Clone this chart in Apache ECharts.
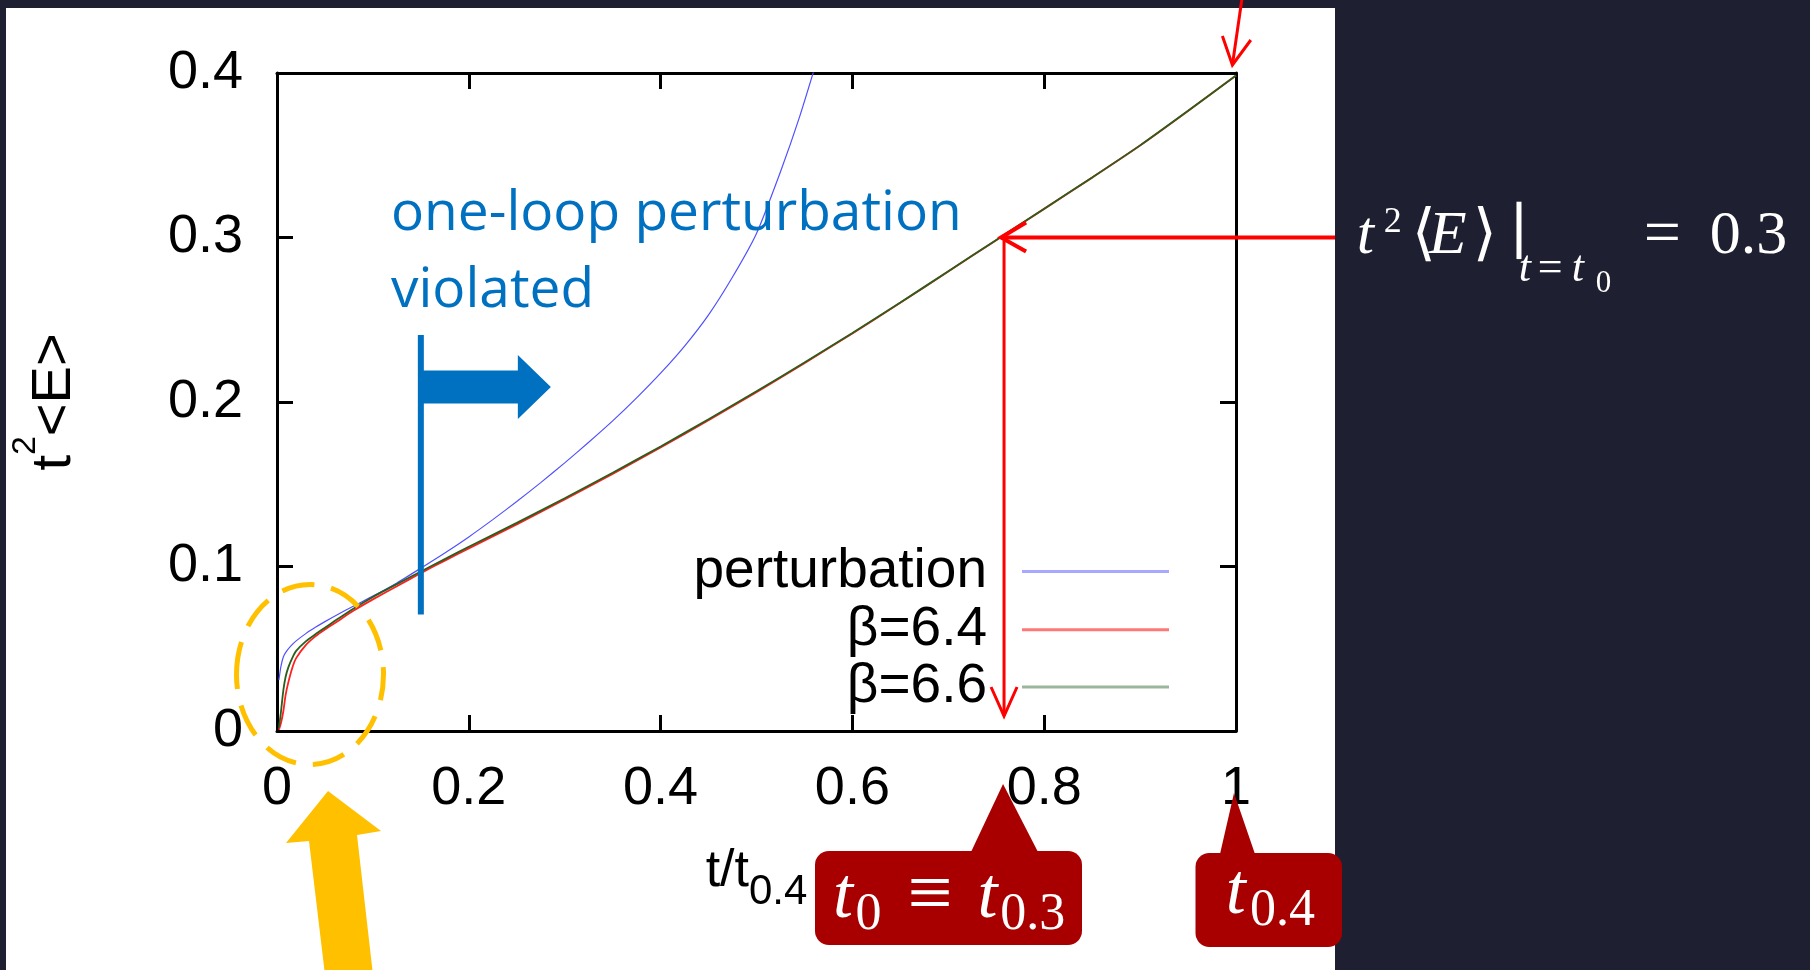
<!DOCTYPE html>
<html>
<head>
<meta charset="utf-8">
<script src="https://cdn.jsdelivr.net/npm/echarts@6/dist/echarts.min.js"></script>
<style>
  html, body { margin: 0; padding: 0; background: #1f1f32; }
  #chart { width: 1810px; height: 970px; }
</style>
</head>
<body>
<div id="chart"></div>
<script>
// ---- data: t^2<E> against t / t_{0.4} ----
const xTickValues = [0, 0.2, 0.4, 0.6, 0.8, 1];
const xTickLabels = ['0', '0.2', '0.4', '0.6', '0.8', '1'];
const yTickValues = [0, 0.1, 0.2, 0.3, 0.4];
const yTickLabels = ['0', '0.1', '0.2', '0.3', '0.4'];
const seriesNames = ['perturbation', 'β=6.4', 'β=6.6'];

const perturbationX = [0.002, 0.004, 0.0066, 0.01, 0.015, 0.02, 0.03, 0.04, 0.05, 0.06, 0.08, 0.1,
  0.125, 0.15, 0.175, 0.2, 0.225, 0.25, 0.275, 0.3, 0.325, 0.35, 0.375, 0.4, 0.425, 0.45, 0.475,
  0.5, 0.525, 0.545, 0.565];
const perturbationY = [0.031, 0.039, 0.045, 0.0485, 0.052, 0.0548, 0.0592, 0.063, 0.0665, 0.0698, 0.076, 0.082,
  0.0900, 0.0990, 0.1082, 0.1180, 0.1285, 0.1395, 0.1510, 0.1630, 0.1755, 0.1885, 0.2025, 0.2175, 0.2340, 0.2530, 0.2760,
  0.3025, 0.3400, 0.3735, 0.4115];

const betaX = [0.002, 0.004, 0.0066, 0.009, 0.012, 0.016, 0.02, 0.03, 0.04, 0.05, 0.06, 0.08, 0.1,
  0.125, 0.15, 0.175, 0.2, 0.25, 0.3, 0.35, 0.4, 0.45, 0.5, 0.55, 0.6, 0.65, 0.7, 0.75, 0.8, 0.85,
  0.9, 0.95, 1.0];
const beta64Y = [0.0008, 0.0045, 0.012, 0.022, 0.030, 0.0385, 0.0443, 0.0522, 0.0575, 0.0617, 0.0655, 0.0732, 0.0800,
  0.0880, 0.0960, 0.1036, 0.1110, 0.1256, 0.1407, 0.1563, 0.1723, 0.1889, 0.2060, 0.2236, 0.2417, 0.2603, 0.2793, 0.2984, 0.3174, 0.3364,
  0.3559, 0.3769, 0.3985];
const beta66Y = [0.002, 0.011, 0.0247, 0.033, 0.039, 0.0445, 0.0487, 0.0545, 0.0588, 0.0628, 0.0668, 0.0745, 0.0815,
  0.0893, 0.0970, 0.1045, 0.1120, 0.1265, 0.1415, 0.1570, 0.1730, 0.1895, 0.2065, 0.2240, 0.2420, 0.2605, 0.2795, 0.2985, 0.3175, 0.3365,
  0.3560, 0.3770, 0.3985];

// reference scale: t_0 is where t^2<E> reaches 0.3
const t0Ratio = 0.755;
const t0Level = 0.3;
// one-loop result stops describing the data beyond this t / t_{0.4}
const oneLoopLimit = 0.15;

// ---- styling ----
const SANS = '"Liberation Sans", Arial, Helvetica, sans-serif';
const SERIF = '"Liberation Serif", "DejaVu Serif", serif';
const BLUE = '#0070c0', GOLD = '#ffc000', RED = '#ff0000', BOX = '#a80000';
const lineColors = ['#5050ff', '#ff2020', '#2a5e1c'];
const lineWidths = [1.2, 1.8, 1.8];
const legendColors = ['#a8a8ff', '#ff7878', '#9bb69b'];
const legendCenters = [571.6, 629.8, 687];
const frame = { color: '#000', width: 3 };

const pairs = (xs, ys) => xs.map((x, i) => [x, ys[i]]);
const step = arr => arr[1] - arr[0];
const labelFrom = (values, labels) => v => labels[Math.round((v - values[0]) / step(values))];

function boxAxis(values, labels, extra) {
  return Object.assign({
    type: 'value',
    min: values[0],
    max: values[values.length - 1],
    interval: step(values),
    axisLine: { show: true, onZero: false, lineStyle: frame },
    axisTick: { show: true, inside: true, length: 16, lineStyle: frame },
    axisLabel: { show: false },
    splitLine: { show: false },
    nameMoveOverlap: false
  }, extra);
}

const option = {
  backgroundColor: '#1f1f32',
  animation: false,
  grid: { left: 277, top: 73, width: 959, height: 658, containLabel: false, outerBoundsMode: 'none' },
  xAxis: [
    boxAxis(xTickValues, xTickLabels, {
      position: 'bottom',
      axisLabel: { show: true, margin: 31, color: '#000', fontFamily: SANS, fontSize: 54,
        formatter: labelFrom(xTickValues, xTickLabels), hideOverlap: false },
      name: '{a|t/t}{b|0.4}',
      nameLocation: 'middle',
      nameGap: 115,
      nameTextStyle: {
        color: '#000', fontFamily: SANS, fontSize: 52,
        rich: {
          a: { color: '#000', fontFamily: SANS, fontSize: 52, height: 52, verticalAlign: 'bottom', padding: [0, 0, 15, 0] },
          b: { color: '#000', fontFamily: SANS, fontSize: 42, height: 42, verticalAlign: 'bottom' }
        }
      }
    }),
    boxAxis(xTickValues, xTickLabels, { position: 'top' })
  ],
  yAxis: [
    boxAxis(yTickValues, yTickLabels, {
      position: 'left',
      axisLabel: { show: true, margin: 34, color: '#000', fontFamily: SANS, fontSize: 54,
        formatter: labelFrom(yTickValues, yTickLabels), hideOverlap: false },
      name: '{a|t}{s|2}{a|<E>}',
      nameLocation: 'middle',
      nameGap: 194,
      nameTextStyle: {
        color: '#000', fontFamily: SANS, fontSize: 54,
        rich: {
          a: { color: '#000', fontFamily: SANS, fontSize: 56, height: 56, verticalAlign: 'bottom' },
          s: { color: '#000', fontFamily: SANS, fontSize: 34, height: 34, verticalAlign: 'bottom', padding: [0, 0, 40, 0] }
        }
      }
    }),
    boxAxis(yTickValues, yTickLabels, { position: 'right' })
  ],
  legend: seriesNames.map((name, i) => ({
    data: [{ name, itemStyle: { color: legendColors[i], borderWidth: 0 } }],
    orient: 'horizontal',
    align: 'right',
    right: 641,
    top: legendCenters[i] - 27.5,
    padding: 0,
    icon: 'rect',
    itemWidth: 147,
    itemHeight: 3,
    selectedMode: false,
    textStyle: { color: '#000', fontFamily: SANS, fontSize: 55, padding: [0, 30, 0, 0] }
  })),
  series: [
    [perturbationX, perturbationY],
    [betaX, beta64Y],
    [betaX, beta66Y]
  ].map(([xs, ys], i) => ({
    name: seriesNames[i],
    type: 'line',
    data: pairs(xs, ys),
    symbol: 'none',
    showSymbol: false,
    smooth: 0.2,
    clip: true,
    z: 2 + i,
    lineStyle: { color: lineColors[i], width: lineWidths[i] },
    itemStyle: { color: lineColors[i] }
  }))
};

const chart = echarts.init(document.getElementById('chart'), null, { renderer: 'canvas' });
chart.setOption(option);

// ---- annotations placed from the axes ----
const toPx = (x, y) => chart.convertToPixel({ seriesIndex: 0 }, [x, y]);
const [t0X, levelY] = toPx(t0Ratio, t0Level);
const [endX, topY] = toPx(xTickValues[xTickValues.length - 1], yTickValues[yTickValues.length - 1]);
const limitX = toPx(oneLoopLimit, 0)[0];
const zeroY = toPx(0, 0)[1];

function serifStyle(size, italic, padBottom, width) {
  const s = { fill: '#fff', fontFamily: SERIF, fontSize: size, height: size, verticalAlign: 'bottom',
    padding: [0, 0, padBottom, 0] };
  if (italic) s.fontStyle = 'italic';
  if (width != null) s.width = width;
  return s;
}

const elements = [
  // white sheet behind the plot
  { type: 'rect', z: -10, silent: true, shape: { x: 6, y: 8, width: 1329, height: 970 }, style: { fill: '#fff' } },

  // one-loop region marker
  { type: 'text', z: 20, style: { text: 'one-loop perturbation\nviolated', x: 391, y: 176,
    fill: BLUE, fontFamily: '"Open Sans", "Noto Sans", sans-serif', fontSize: 55, lineHeight: 77, verticalAlign: 'top' } },
  { type: 'line', z: 20, shape: { x1: limitX, y1: 335, x2: limitX, y2: 614.5 }, style: { stroke: BLUE, lineWidth: 6 } },
  { type: 'polygon', z: 20, shape: { points: [[limitX, 370.5], [limitX + 97, 370.5], [limitX + 97, 355],
    [limitX + 130, 387], [limitX + 97, 419], [limitX + 97, 403.5], [limitX, 403.5]] }, style: { fill: BLUE } },

  // small-t region highlight
  { type: 'ellipse', z: 20, shape: { cx: 310, cy: 674.5, rx: 73.5, ry: 90 },
    style: { fill: null, stroke: GOLD, lineWidth: 5, lineDash: [33, 17] } },
  { type: 'polygon', z: 20, shape: { points: [[328, 791], [381, 831], [357, 835], [373, 975], [325, 975], [309, 841], [286, 843]] },
    style: { fill: GOLD } },

  // arrow onto t_{0.4}
  { type: 'polyline', z: 20, shape: { points: [[endX + 6.5, -5], [endX - 3.6, topY - 8]] }, style: { stroke: RED, lineWidth: 3, fill: null } },
  { type: 'polyline', z: 20, shape: { points: [[endX - 13.6, topY - 37], [endX - 3.6, topY - 8], [endX + 14.8, topY - 33]] },
    style: { stroke: RED, lineWidth: 3, fill: null } },

  // t^2<E> = 0.3 level and its crossing
  { type: 'line', z: 20, shape: { x1: 1335, y1: levelY, x2: t0X, y2: levelY }, style: { stroke: RED, lineWidth: 4 } },
  { type: 'polyline', z: 20, shape: { points: [[t0X + 25, levelY - 15], [t0X, levelY], [t0X + 25, levelY + 14]] },
    style: { stroke: RED, lineWidth: 4, fill: null } },
  { type: 'line', z: 20, shape: { x1: t0X + 3, y1: levelY + 3, x2: t0X + 3, y2: zeroY - 15 }, style: { stroke: RED, lineWidth: 3 } },
  { type: 'polyline', z: 20, shape: { points: [[t0X - 10, zeroY - 44], [t0X + 3, zeroY - 15], [t0X + 16, zeroY - 44]] },
    style: { stroke: RED, lineWidth: 3, fill: null } },

  // defining condition
  { type: 'text', z: 20, style: {
    x: 1356.7, y: 204, verticalAlign: 'top',
    text: '{t|t}{sq|2}{lb|⟨}{e|E}{rb|⟩}{bar|∣}{st|t}{seq|=}{st2|t}{ss|0}{eq|=}{r|0.3}',
    rich: {
      t: serifStyle(62, true, 32, 27),
      sq: serifStyle(36, false, 59, 28),
      lb: serifStyle(62, false, 32, 17),
      e: serifStyle(62, true, 32, 44),
      rb: serifStyle(62, false, 32, 37),
      bar: serifStyle(62, false, 32, 9),
      st: serifStyle(44, true, 9, 19),
      seq: serifStyle(44, false, 9, 34),
      st2: serifStyle(44, true, 9, 24),
      ss: serifStyle(31, false, 0.5, 48),
      eq: serifStyle(66, false, 30, 66),
      r: serifStyle(62, false, 32)
    }
  } },

  // callouts under the x axis
  { type: 'rect', z: 20, shape: { x: 815, y: 851, width: 267, height: 94, r: 14 }, style: { fill: BOX } },
  { type: 'polygon', z: 20, shape: { points: [[971, 852], [t0X + 2, 784], [1038, 852]] }, style: { fill: BOX } },
  { type: 'text', z: 21, style: {
    x: 833, y: 858, verticalAlign: 'top',
    text: '{t|t}{s|0}{q|≡}{t|t}{r|0.3}',
    rich: {
      t: serifStyle(72, true, 8, 22.6),
      s: serifStyle(52, false, 1, 52),
      q: serifStyle(80, false, 4, 70),
      r: serifStyle(52, false, 1)
    }
  } },
  { type: 'rect', z: 20, shape: { x: 1195.5, y: 853, width: 146.5, height: 94, r: 14 }, style: { fill: BOX } },
  { type: 'polygon', z: 20, shape: { points: [[1220, 854], [endX - 2, 793], [1255, 854]] }, style: { fill: BOX } },
  { type: 'text', z: 21, style: {
    x: 1225.8, y: 858, verticalAlign: 'top',
    text: '{t|t}{r|0.4}',
    rich: {
      t: serifStyle(72, true, 8, 24.2),
      r: serifStyle(52, false, 1)
    }
  } }
];

chart.setOption({ graphic: { elements } });
</script>
</body>
</html>
